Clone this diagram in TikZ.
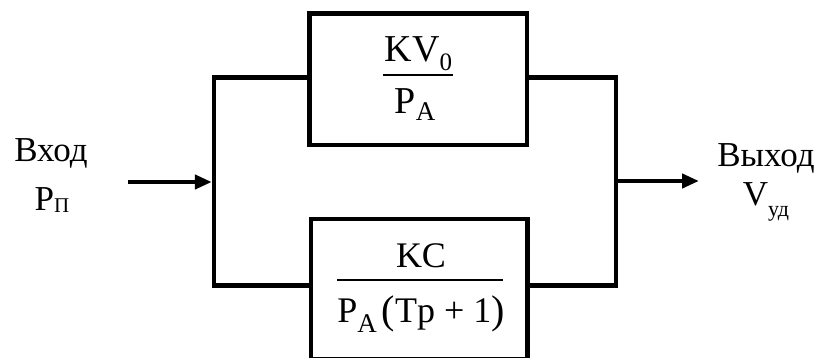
\documentclass[tikz,border=0pt]{standalone}
\usepackage{fontspec}
\setmainfont{Liberation Serif}
\usetikzlibrary{arrows.meta}
\newcommand\lowsub[3]{\raisebox{-#1pt}{\fontsize{#2}{#2}\selectfont #3}}
\newcommand\bigpar[1]{\raisebox{-1pt}{\fontsize{40}{40}\selectfont #1}}
\begin{document}
\begin{tikzpicture}[x=1pt,y=-1pt,
  blockbox/.style={draw, line width=4.5pt, inner sep=0pt, outer sep=0pt},
  wire/.style={line width=4.3pt},
  arr/.style={wire, -{Triangle[length=17pt,width=14pt]}},
  lbl/.style={anchor=base, inner sep=0pt, font=\fontsize{35}{40}\selectfont},
  ftop/.style={anchor=base, inner sep=0pt, font=\fontsize{38}{44}\selectfont},
  fbot/.style={anchor=base, inner sep=0pt, font=\fontsize{36}{42}\selectfont},
  fracrule/.style={line width=2pt}]
\fill[white] (0,0) rectangle (819,358);
\useasboundingbox (0,0) rectangle (819,358);
% blocks
\node[blockbox, minimum width=217.5pt, minimum height=131.5pt] (top) at (418.25,79.25) {};
\node[blockbox, minimum width=216.5pt, minimum height=140pt] (bot) at (419.25,289) {};
% fractions
\node[ftop] (tnum) at (418.5,62) {KV\lowsub{9}{25}{0}};
\node[ftop] (tden) at (415,114) {P\lowsub{7}{27}{A}};
\draw[fracrule] (383,75) -- (453,75);
\node[fbot] (bnum) at (421,267) {KC};
\node[fbot] (bden) at (421,322) {P\lowsub{10}{27}{A}\hspace{5pt}\bigpar{(}Tp + 1\bigpar{)}};
\draw[fracrule] (337,280) -- (503,280);
% bus coordinates
\coordinate (lt) at (214,77.5);
\coordinate (lb) at (214,285.5);
\coordinate (rt) at (616,77.5);
\coordinate (rb) at (616,285.5);
\coordinate (inS) at (128,182);
\coordinate (outE) at (699,181);
% wires
\draw[wire] (top.west |- lt) -- (lt) -- (lb) -- (bot.west |- lb);
\draw[wire] (top.east |- rt) -- (rt) -- (rb) -- (bot.east |- rb);
\draw[arr, shorten >=2.2pt] (inS) -- (lt |- inS);
\draw[arr] (rt |- outE) -- (outE);
% labels
\node[lbl] (inlbl) at (51,162) {Вход};
\node[lbl] (insym) at (52,211) {P\lowsub{2}{21}{П}};
\node[lbl] (outlbl) at (766,167) {Выход};
\node[lbl] (outsym) at (766,206) {V\lowsub{11}{22}{уд}};
\end{tikzpicture}
\end{document}
